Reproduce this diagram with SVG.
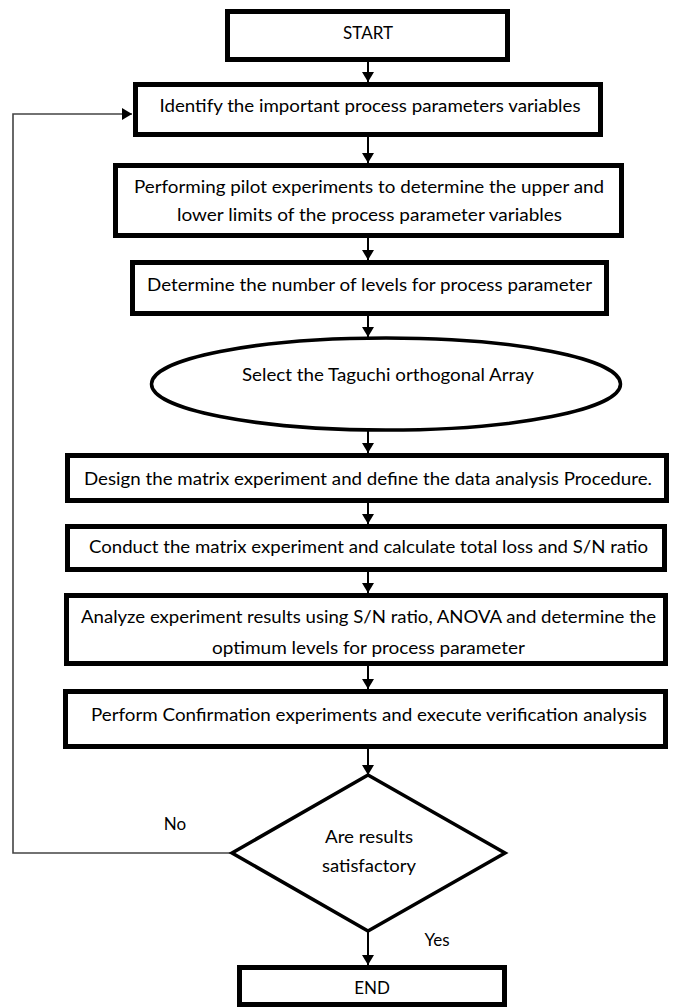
<svg xmlns="http://www.w3.org/2000/svg" width="674" height="1007" viewBox="0 0 674 1007">
<style>
.box{fill:#fff;stroke:#000;stroke-width:5}
.shape{fill:#fff;stroke:#000;stroke-width:3.5}
.t{font-family:Lato,"Open Sans","Liberation Sans",sans-serif;font-size:17px;fill:#000;text-anchor:middle}
.c{stroke:#000;stroke-width:2;fill:none}
.fb{stroke:#444;stroke-width:1.6;fill:none}
</style>
<defs>
<marker id="ah" markerWidth="10" markerHeight="12" refX="10" refY="6" orient="auto" markerUnits="userSpaceOnUse">
<path d="M0,0 L10,6 L0,12 Z" fill="#000"/>
</marker>
</defs>
<rect width="674" height="1007" fill="#fff"/>
<g id="connectors">
<line class="c" x1="368" y1="62" x2="368" y2="82" marker-end="url(#ah)"/>
<line class="c" x1="368" y1="137" x2="368" y2="163" marker-end="url(#ah)"/>
<line class="c" x1="368" y1="238" x2="368" y2="260" marker-end="url(#ah)"/>
<line class="c" x1="368" y1="316" x2="368" y2="337" marker-end="url(#ah)"/>
<line class="c" x1="368" y1="430" x2="368" y2="453" marker-end="url(#ah)"/>
<line class="c" x1="368" y1="503" x2="368" y2="524" marker-end="url(#ah)"/>
<line class="c" x1="368" y1="572" x2="368" y2="593" marker-end="url(#ah)"/>
<line class="c" x1="368" y1="666" x2="368" y2="689" marker-end="url(#ah)"/>
<line class="c" x1="368" y1="749" x2="368" y2="775" marker-end="url(#ah)"/>
<line class="c" x1="368" y1="931" x2="368" y2="965" marker-end="url(#ah)"/>
<polyline class="fb" points="232,853 13,853 13,114 132,114" marker-end="url(#ah)"/>
<text class="t" x="175" y="830">No</text>
<text class="t" x="437" y="946">Yes</text>
</g>
<g id="start">
<rect class="box" x="227.5" y="11.5" width="280" height="48"/>
<text class="t" x="368" y="39">START</text>
</g>
<g id="identify">
<rect class="box" x="135.5" y="84.5" width="465" height="50"/>
<text class="t" x="370" y="112" textLength="421" lengthAdjust="spacingAndGlyphs">Identify the important process parameters variables</text>
</g>
<g id="pilot">
<rect class="box" x="115.5" y="165.5" width="506" height="70"/>
<text class="t" x="369" y="193" textLength="470" lengthAdjust="spacingAndGlyphs">Performing pilot experiments to determine the upper and</text>
<text class="t" x="369.5" y="221" textLength="385" lengthAdjust="spacingAndGlyphs">lower limits of the process parameter variables</text>
</g>
<g id="levels">
<rect class="box" x="132.5" y="262.5" width="474" height="51"/>
<text class="t" x="369.5" y="291" textLength="445" lengthAdjust="spacingAndGlyphs">Determine the number of levels for process parameter</text>
</g>
<g id="taguchi">
<ellipse class="shape" cx="386" cy="384" rx="234.5" ry="46"/>
<text class="t" x="388" y="381" textLength="292" lengthAdjust="spacingAndGlyphs">Select the Taguchi orthogonal Array</text>
</g>
<g id="design">
<rect class="box" x="67.5" y="455.5" width="599" height="45"/>
<text class="t" x="368" y="485" textLength="568" lengthAdjust="spacingAndGlyphs">Design the matrix experiment and define the data analysis Procedure.</text>
</g>
<g id="conduct">
<rect class="box" x="67.5" y="526.5" width="597" height="43"/>
<text class="t" x="368.5" y="553" textLength="559" lengthAdjust="spacingAndGlyphs">Conduct the matrix experiment and calculate total loss and S/N ratio</text>
</g>
<g id="analyze">
<rect class="box" x="66.5" y="595.5" width="599" height="68"/>
<text class="t" x="368.5" y="623" textLength="575" lengthAdjust="spacingAndGlyphs">Analyze experiment results using S/N ratio, ANOVA and determine the</text>
<text class="t" x="368.5" y="654" textLength="313" lengthAdjust="spacingAndGlyphs">optimum levels for process parameter</text>
</g>
<g id="confirm">
<rect class="box" x="65.5" y="691.5" width="600" height="55"/>
<text class="t" x="369" y="721" textLength="556" lengthAdjust="spacingAndGlyphs">Perform Confirmation experiments and execute verification analysis</text>
</g>
<g id="decision">
<polygon class="shape" points="368,775 505,853 368,931 232,853"/>
<text class="t" x="369" y="843" textLength="88" lengthAdjust="spacingAndGlyphs">Are results</text>
<text class="t" x="369" y="872" textLength="94" lengthAdjust="spacingAndGlyphs">satisfactory</text>
</g>
<g id="end">
<rect class="box" x="239.5" y="967.5" width="265" height="37"/>
<text class="t" x="372" y="994">END</text>
</g>
</svg>
